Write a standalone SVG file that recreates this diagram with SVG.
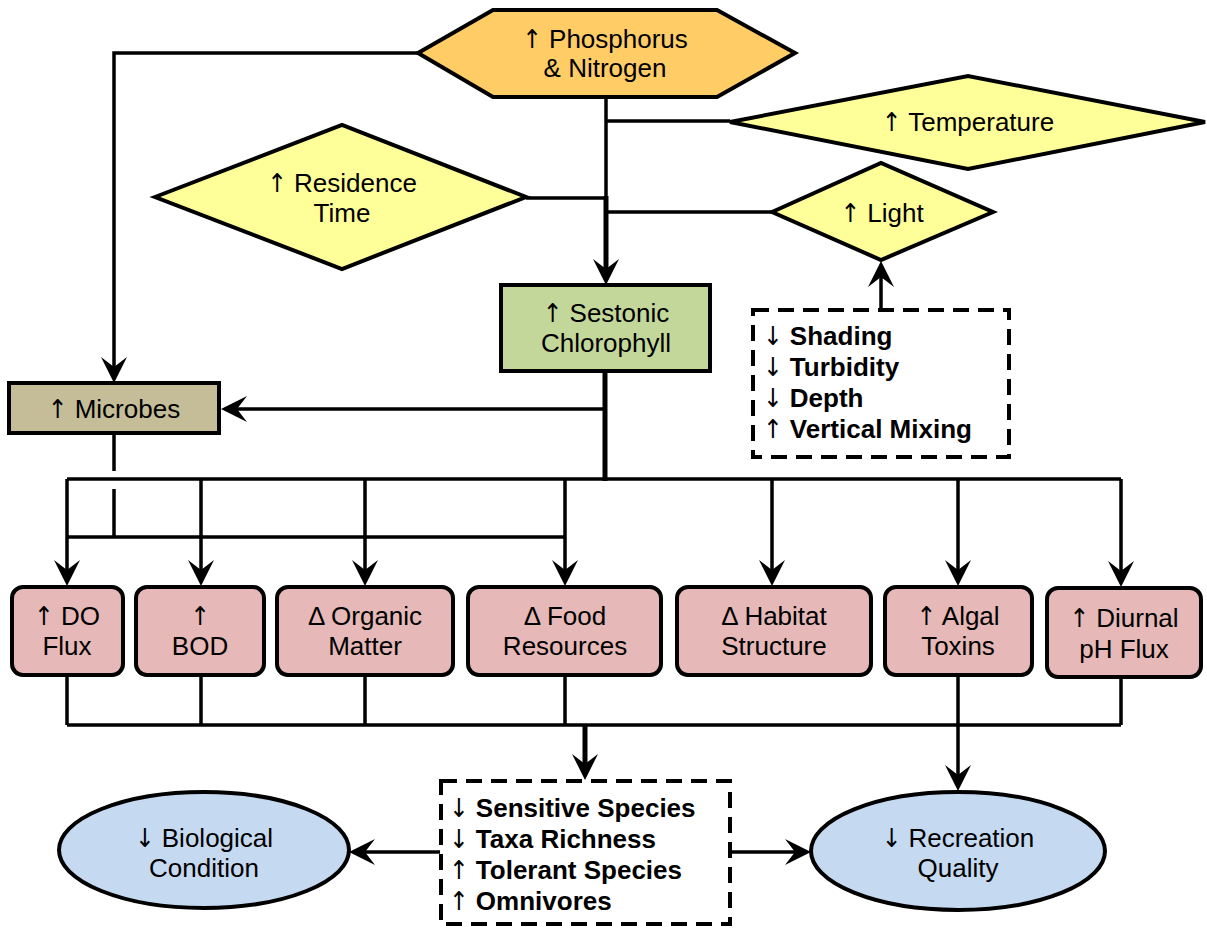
<svg xmlns="http://www.w3.org/2000/svg" width="1207" height="928" viewBox="0 0 1207 928">
<style>
.t{font-family:"Liberation Sans",Arial,sans-serif;font-size:26px;fill:#000;text-anchor:middle}
.b{font-family:"Liberation Sans",Arial,sans-serif;font-size:26px;fill:#000}
.w{font-weight:bold}
.a{font-family:"DejaVu Sans Condensed","DejaVu Sans",sans-serif;font-weight:normal;fill:#000}
.sh{stroke:#000;stroke-width:4;stroke-linejoin:miter}
.c{stroke:#000;stroke-width:3.5;fill:none}
.ck{stroke:#000;stroke-width:5;fill:none}
.d{fill:none;stroke:#000;stroke-width:4;stroke-dasharray:16 9}
.pk{fill:#E6B8B7}
</style>
<defs>
<marker id="ah" viewBox="-30 -15 32 30" refX="-8" refY="0" markerWidth="32" markerHeight="30" markerUnits="userSpaceOnUse" orient="auto">
<path d="M0,0 L-26,-13 L-16,0 L-26,13 Z" fill="#000"/>
</marker>
</defs>
<rect width="1207" height="928" fill="#fff"/>
<g id="connectors">
<polyline class="c" points="418,53 114,53 114,375" marker-end="url(#ah)"/>
<line class="c" x1="606" y1="97" x2="606" y2="198"/>
<line class="ck" x1="606" y1="196" x2="606" y2="277" marker-end="url(#ah)"/>
<line class="c" x1="730" y1="121" x2="606" y2="121"/>
<line class="c" x1="526" y1="198" x2="606" y2="198"/>
<line class="c" x1="772" y1="212" x2="606" y2="212"/>
<line class="ck" x1="605" y1="371" x2="605" y2="481"/>
<line class="c" x1="605" y1="409" x2="229" y2="409" marker-end="url(#ah)"/>
<line class="c" x1="67" y1="479" x2="1121" y2="479"/>
<line class="c" x1="67" y1="479" x2="67" y2="578" marker-end="url(#ah)"/>
<line class="c" x1="201" y1="479" x2="201" y2="578" marker-end="url(#ah)"/>
<line class="c" x1="365" y1="479" x2="365" y2="578" marker-end="url(#ah)"/>
<line class="c" x1="565" y1="479" x2="565" y2="578" marker-end="url(#ah)"/>
<line class="c" x1="772" y1="479" x2="772" y2="578" marker-end="url(#ah)"/>
<line class="c" x1="958" y1="479" x2="958" y2="578" marker-end="url(#ah)"/>
<line class="c" x1="1121" y1="479" x2="1121" y2="579" marker-end="url(#ah)"/>
<line class="c" x1="114" y1="433" x2="114" y2="471"/>
<line class="c" x1="114" y1="489" x2="114" y2="537"/>
<line class="c" x1="67" y1="537" x2="565" y2="537"/>
<line class="c" x1="67" y1="675" x2="67" y2="725"/>
<line class="c" x1="201" y1="675" x2="201" y2="725"/>
<line class="c" x1="365" y1="675" x2="365" y2="725"/>
<line class="c" x1="565" y1="675" x2="565" y2="725"/>
<line class="c" x1="1121" y1="677" x2="1121" y2="725"/>
<line class="c" x1="67" y1="725" x2="1121" y2="725"/>
<line class="ck" x1="585" y1="725" x2="585" y2="772" marker-end="url(#ah)"/>
<line class="c" x1="958" y1="677" x2="958" y2="783" marker-end="url(#ah)"/>
<line class="c" x1="440" y1="852" x2="357" y2="852" marker-end="url(#ah)"/>
<line class="c" x1="730" y1="852" x2="803" y2="852" marker-end="url(#ah)"/>
<line class="c" x1="881" y1="310" x2="881" y2="269" marker-end="url(#ah)"/>
</g>
<g id="phosphorus">
<polygon class="sh" fill="#FFCC66" points="418,53 493,10 717,10 795,53 717,97 493,97"/>
<text class="t" x="605" y="48"><tspan class="a">↑</tspan> Phosphorus</text>
<text class="t" x="605" y="77">&amp; Nitrogen</text>
</g>
<g id="temperature">
<polygon class="sh" fill="#FFFF99" points="730,122 968,76 1205,122 968,169"/>
<text class="t" x="968" y="131"><tspan class="a">↑</tspan> Temperature</text>
</g>
<g id="residence">
<polygon class="sh" fill="#FFFF99" points="155,197 342,125 526,197 342,269"/>
<text class="t" x="342" y="192"><tspan class="a">↑</tspan> Residence</text>
<text class="t" x="342" y="222">Time</text>
</g>
<g id="light">
<polygon class="sh" fill="#FFFF99" points="772,212 881,163 993,212 881,260"/>
<text class="t" x="882" y="222"><tspan class="a">↑</tspan> Light</text>
</g>
<g id="chlorophyll">
<rect class="sh" fill="#C4D79B" x="501" y="285" width="209" height="86"/>
<text class="t" x="606" y="322"><tspan class="a">↑</tspan> Sestonic</text>
<text class="t" x="606" y="352">Chlorophyll</text>
</g>
<g id="light-factors">
<rect class="d" x="753" y="310" width="256" height="147"/>
<text class="b" x="763" y="345"><tspan class="a">↓</tspan> <tspan class="w">Shading</tspan></text>
<text class="b" x="763" y="376"><tspan class="a">↓</tspan> <tspan class="w">Turbidity</tspan></text>
<text class="b" x="763" y="407"><tspan class="a">↓</tspan> <tspan class="w">Depth</tspan></text>
<text class="b" x="763" y="438"><tspan class="a">↑</tspan> <tspan class="w">Vertical Mixing</tspan></text>
</g>
<g id="microbes">
<rect class="sh" fill="#C4BD97" x="9" y="383" width="210" height="50"/>
<text class="t" x="114" y="418"><tspan class="a">↑</tspan> Microbes</text>
</g>
<g id="do-flux">
<rect class="sh pk" x="12" y="587" width="111" height="88" rx="11"/>
<text class="t" x="67" y="625"><tspan class="a">↑</tspan> DO</text>
<text class="t" x="67" y="655">Flux</text>
</g>
<g id="bod">
<rect class="sh pk" x="136" y="587" width="128" height="88" rx="11"/>
<text class="t" x="200" y="625"><tspan class="a">↑</tspan></text>
<text class="t" x="200" y="655">BOD</text>
</g>
<g id="organic-matter">
<rect class="sh pk" x="277" y="587" width="176" height="88" rx="11"/>
<text class="t" x="365" y="625">Δ Organic</text>
<text class="t" x="365" y="655">Matter</text>
</g>
<g id="food-resources">
<rect class="sh pk" x="468" y="587" width="193" height="88" rx="11"/>
<text class="t" x="565" y="625">Δ Food</text>
<text class="t" x="565" y="655">Resources</text>
</g>
<g id="habitat-structure">
<rect class="sh pk" x="677" y="587" width="194" height="88" rx="11"/>
<text class="t" x="774" y="625">Δ Habitat</text>
<text class="t" x="774" y="655">Structure</text>
</g>
<g id="algal-toxins">
<rect class="sh pk" x="885" y="587" width="147" height="88" rx="11"/>
<text class="t" x="958" y="625"><tspan class="a">↑</tspan> Algal</text>
<text class="t" x="958" y="655">Toxins</text>
</g>
<g id="ph-flux">
<rect class="sh pk" x="1047" y="588" width="154" height="89" rx="11"/>
<text class="t" x="1124" y="627"><tspan class="a">↑</tspan> Diurnal</text>
<text class="t" x="1124" y="658">pH Flux</text>
</g>
<g id="biota-responses">
<rect class="d" x="441" y="781" width="289" height="143"/>
<text class="b" x="449" y="817"><tspan class="a">↓</tspan> <tspan class="w">Sensitive Species</tspan></text>
<text class="b" x="449" y="848"><tspan class="a">↓</tspan> <tspan class="w">Taxa Richness</tspan></text>
<text class="b" x="449" y="879"><tspan class="a">↑</tspan> <tspan class="w">Tolerant Species</tspan></text>
<text class="b" x="449" y="910"><tspan class="a">↑</tspan> <tspan class="w">Omnivores</tspan></text>
</g>
<g id="biological-condition">
<ellipse class="sh" fill="#C5D9F1" cx="204" cy="850" rx="145" ry="58"/>
<text class="t" x="204" y="847"><tspan class="a">↓</tspan> Biological</text>
<text class="t" x="204" y="877">Condition</text>
</g>
<g id="recreation-quality">
<ellipse class="sh" fill="#C5D9F1" cx="958" cy="851" rx="147" ry="59"/>
<text class="t" x="958" y="847"><tspan class="a">↓</tspan> Recreation</text>
<text class="t" x="958" y="877">Quality</text>
</g>
</svg>
